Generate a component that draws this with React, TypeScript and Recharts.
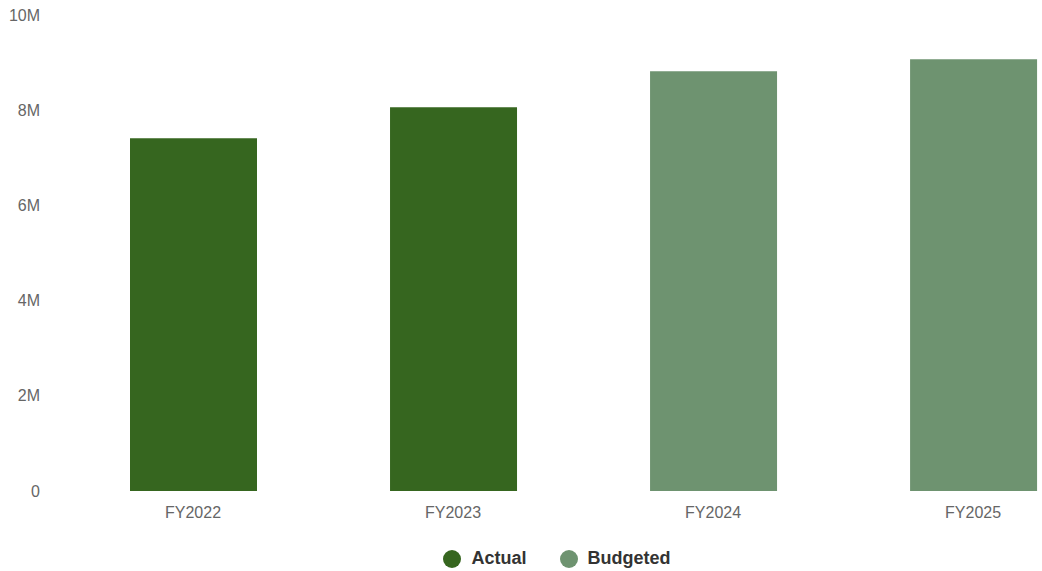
import { BarChart, Bar, XAxis, YAxis, Legend } from "recharts";

const categories = ["FY2022", "FY2023", "FY2024", "FY2025"];
const actual = [7.41, 8.06, null, null];
const budgeted = [null, null, 8.82, 9.07];
const yTicks = [0, 2, 4, 6, 8, 10];

const data = categories.map((name, i) => ({
  idx: i,
  name,
  actual: actual[i] == null ? null : actual[i]! * 1e6,
  budgeted: budgeted[i] == null ? null : budgeted[i]! * 1e6,
}));

const series = [
  { key: "actual", label: "Actual", color: "#36661f" },
  { key: "budgeted", label: "Budgeted", color: "#6e9370" },
];

function LegendContent() {
  return (
    <div
      style={{
        display: "flex",
        justifyContent: "center",
        gap: 33,
        fontFamily: "Liberation Sans, Arial, sans-serif",
        fontSize: 18,
        fontWeight: 700,
        color: "#333",
        paddingLeft: 72,
        paddingTop: 13,
      }}
    >
      {series.map((s) => (
        <div key={s.key} style={{ display: "flex", alignItems: "center", gap: 10 }}>
          <span
            style={{
              width: 18,
              height: 18,
              borderRadius: "50%",
              background: s.color,
              display: "inline-block",
            }}
          />
          <span>{s.label}</span>
        </div>
      ))}
    </div>
  );
}

export default function App() {
  return (
    <div style={{ position: "absolute", left: 0, top: 0, background: "#fff" }}>
      <BarChart
        width={1042}
        height={571}
        data={data}
        margin={{ top: 15, right: 0, left: 0, bottom: 0 }}
        style={{ fontFamily: "Liberation Sans, Arial, sans-serif" }}
      >
        <XAxis
          dataKey="idx"
          type="number"
          domain={[-0.55, 3.265]}
          ticks={[0, 1, 2, 3]}
          tickFormatter={(v: number) => categories[v]}
          axisLine={false}
          tickLine={false}
          tickSize={0}
          tickMargin={16}
          height={44}
          allowDataOverflow
          tick={{ fill: "#666", fontSize: 16 }}
        />
        <YAxis
          domain={[0, 10e6]}
          ticks={yTicks.map((t) => t * 1e6)}
          tickFormatter={(v: number) => (v === 0 ? "0" : `${v / 1e6}M`)}
          axisLine={false}
          tickLine={false}
          tickSize={0}
          tickMargin={10}
          width={50}
          tick={{ fill: "#666", fontSize: 16 }}
        />
        <Legend
          verticalAlign="bottom"
          height={36}
          content={<LegendContent />}
        />
        {series.map((s) => (
          <Bar
            key={s.key}
            dataKey={s.key}
            name={s.label}
            stackId="a"
            fill={s.color}
            barSize={127}
            isAnimationActive={false}
          />
        ))}
      </BarChart>
    </div>
  );
}
